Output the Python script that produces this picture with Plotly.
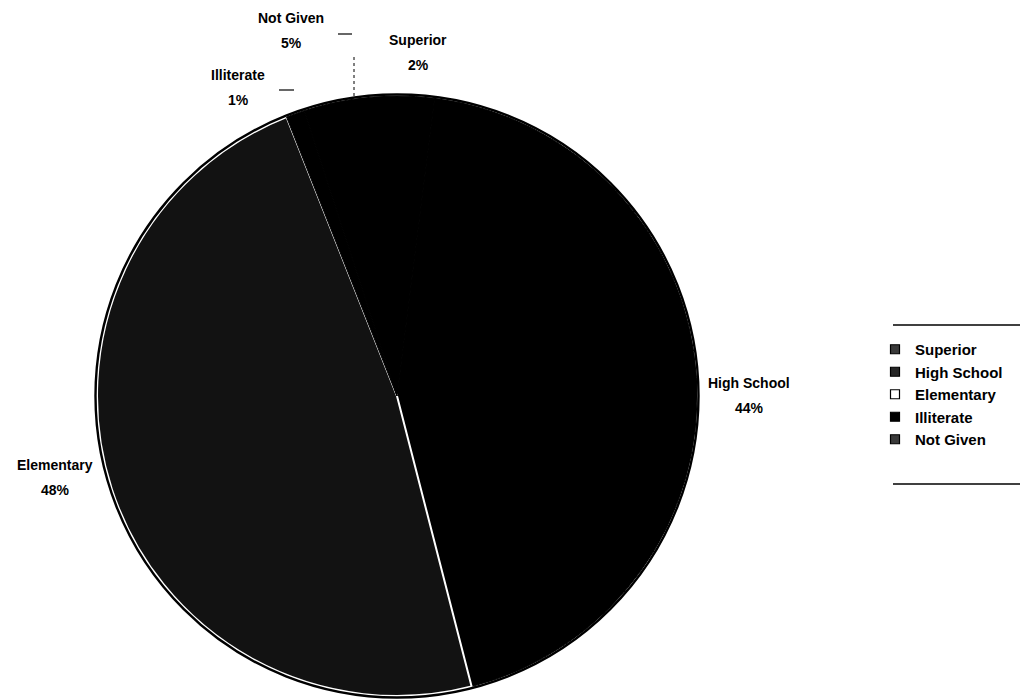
import plotly.graph_objects as go

# Education level of respondents (percent of total)
levels = ["Superior", "High School", "Elementary", "Illiterate", "Not Given"]
shares = [2, 44, 48, 1, 5]

W, H = 1020, 699
FONT = "Liberation Sans, Arial, sans-serif"


def px(x, y):
    """Convert page pixels (origin top-left) to paper coordinates."""
    return x / W, 1 - y / H


# pie geometry in page pixels
cx, cy, r = 397, 396, 300
x0, y1 = px(cx - r, cy - r)
x1, y0 = px(cx + r, cy + r)

slice_fill = ["#000000", "#000000", "#121212", "#000000", "#000000"]
edge_color = ["#000000", "#000000", "#ffffff", "#000000", "#000000"]
edge_width = [1, 1, 2, 1, 1]

fig = go.Figure()
fig.add_trace(go.Pie(
    labels=levels,
    values=shares,
    sort=False,
    direction="clockwise",
    rotation=0,
    textinfo="none",
    hoverinfo="label+percent",
    showlegend=False,
    domain=dict(x=[x0, x1], y=[y0, y1]),
    marker=dict(colors=slice_fill, line=dict(color=edge_color, width=edge_width)),
))

# legend entries
legend_fill = ["#3a3a3a", "#262626", "#ffffff", "#000000", "#3a3a3a"]
for name, col in zip(levels, legend_fill):
    fig.add_trace(go.Scatter(
        x=[None], y=[None], mode="markers", name=name,
        marker=dict(symbol="square", size=9, color=col,
                    line=dict(color="#000000", width=1.2)),
    ))

# outer rim of the pie
rr = r + 1.5
a, b = px(cx - rr, cy - rr)
c, d = px(cx + rr, cy + rr)
shapes = [dict(type="circle", xref="paper", yref="paper", x0=a, y0=d, x1=c, y1=b,
               line=dict(color="#000000", width=2.4), fillcolor="rgba(0,0,0,0)")]


def seg(xa, ya, xb, yb, dash="solid", w=1.2):
    p, q = px(xa, ya)
    s, t = px(xb, yb)
    return dict(type="line", xref="paper", yref="paper", x0=p, y0=q, x1=s, y1=t,
                line=dict(color="#000000", width=w, dash=dash))


# leader marks next to the small-slice labels
shapes += [
    seg(338, 34, 352, 34),
    seg(279, 90, 294, 90),
    seg(354, 57, 354, 97, dash="dot", w=1),
]

# rules above and below the legend
shapes += [
    seg(893, 325, 1020, 325, w=1.3),
    seg(893, 484, 1020, 484, w=1.3),
]

# slice labels: name on the first line, share on the second
label_pos = {
    "Superior": (418, 40),
    "High School": (749, 383),
    "Elementary": (55, 465),
    "Illiterate": (238, 75),
    "Not Given": (291, 18),
}
LINE_GAP = 25
annotations = []
for name, val in zip(levels, shares):
    lx, ly = label_pos[name]
    for k, txt in enumerate([name, f"{val}%"]):
        ax, ay = px(lx, ly + k * LINE_GAP)
        annotations.append(dict(
            x=ax, y=ay, xref="paper", yref="paper", showarrow=False,
            xanchor="center", yanchor="middle", text=txt,
            font=dict(family=FONT, size=14, color="#000000", weight="bold"),
        ))

lgx, lgy = px(875, 333)
fig.update_layout(
    width=W, height=H,
    margin=dict(l=0, r=0, t=0, b=0),
    paper_bgcolor="#ffffff", plot_bgcolor="#ffffff",
    xaxis=dict(visible=False), yaxis=dict(visible=False),
    shapes=shapes, annotations=annotations,
    legend=dict(x=lgx, y=lgy, xanchor="left", yanchor="top",
                font=dict(family=FONT, size=15, color="#000000", weight="bold"),
                bgcolor="rgba(0,0,0,0)", tracegroupgap=0,
                itemclick=False),
)

fig.write_html("out.html")
